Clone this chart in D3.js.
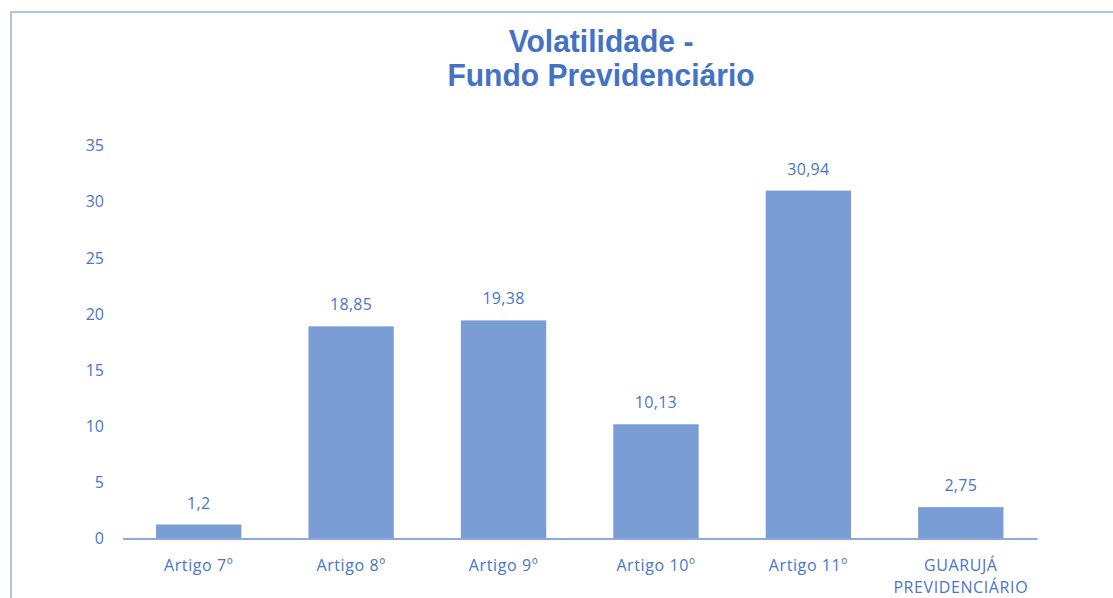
<!DOCTYPE html>
<html><head><meta charset="utf-8">
<script src="https://cdn.jsdelivr.net/npm/d3@7"></script>
<style>
html,body{margin:0;padding:0;background:#fff;}
svg{display:block;}
</style></head>
<body>
<svg id="chart" width="1113" height="598"></svg>
<script>
const categories = [["Artigo 7º"],["Artigo 8º"],["Artigo 9º"],["Artigo 10º"],["Artigo 11º"],["GUARUJÁ","PREVIDENCIÁRIO"]];
const values = [1.2, 18.85, 19.38, 10.13, 30.94, 2.75];
const valueLabels = ["1,2","18,85","19,38","10,13","30,94","2,75"];
const yTicks = [0,5,10,15,20,25,30,35];
const titleLines = ["Volatilidade -","Fundo Previdenciário"];

const svg = d3.select("#chart");
const W = 1113, H = 598;
const textColor = "#4A76C6";
const barColor = "#7B9DD6";
const axisColor = "#8EAADB";
const font = "'Open Sans', sans-serif";

// outer border
svg.append("rect").attr("x",11).attr("y",12).attr("width",W+20).attr("height",H+20)
  .attr("fill","none").attr("stroke","#AFC3E6").attr("stroke-width",2);

const x = d3.scaleBand().domain(d3.range(categories.length)).range([122.5,1037]).paddingInner(0.44).paddingOuter(0.22);
const y = d3.scaleLinear().domain([0,35]).range([538,145]);

// title
const title = svg.append("text").attr("text-anchor","middle")
  .attr("transform","translate(601,0) scale(0.97,1)")
  .attr("font-family","'Liberation Sans', Arial, sans-serif").attr("font-weight","bold")
  .attr("font-size",31).attr("fill","#4472C4");
titleLines.forEach((t,i)=>{
  title.append("tspan").attr("x",0).attr("y",52+i*34).text(t);
});

// y axis tick labels
const yAxis = d3.axisLeft(y).tickValues(yTicks).tickSize(0).tickPadding(0);
const yg = svg.append("g").attr("transform","translate(104,0)").call(yAxis);
yg.select(".domain").remove();
yg.selectAll("text").attr("font-family",font).attr("font-size",16)
  .attr("fill",textColor).attr("dy","0.36em");

// bars
svg.append("g").selectAll("rect").data(values).join("rect")
  .attr("x",(d,i)=>x(i)).attr("width",x.bandwidth())
  .attr("y",d=>y(d)).attr("height",d=>y(0)-y(d)).attr("fill",barColor);

// baseline
const xAxis = d3.axisBottom(x).tickSize(0).tickFormat("");
const xg = svg.append("g").attr("transform","translate(0,538.5)").call(xAxis);
xg.select(".domain").attr("stroke",axisColor).attr("stroke-width",2);

// category labels
const cl = svg.append("g").selectAll("text").data(categories).join("text")
  .attr("text-anchor","middle").attr("font-family",font)
  .attr("font-size",16).attr("letter-spacing",0.6).attr("fill",textColor);
cl.each(function(lines,i){
  const t = d3.select(this);
  lines.forEach((s,j)=>{
    t.append("tspan").attr("x",x(i)+x.bandwidth()/2).attr("y",571+j*22).text(s);
  });
});

// value labels
svg.append("g").selectAll("text").data(values).join("text")
  .attr("text-anchor","middle").attr("font-family",font)
  .attr("font-size",16).attr("letter-spacing",0.3).attr("fill",textColor)
  .attr("x",(d,i)=>x(i)+x.bandwidth()/2).attr("y",d=>y(d)-16)
  .text((d,i)=>valueLabels[i]);
</script>
</body></html>
